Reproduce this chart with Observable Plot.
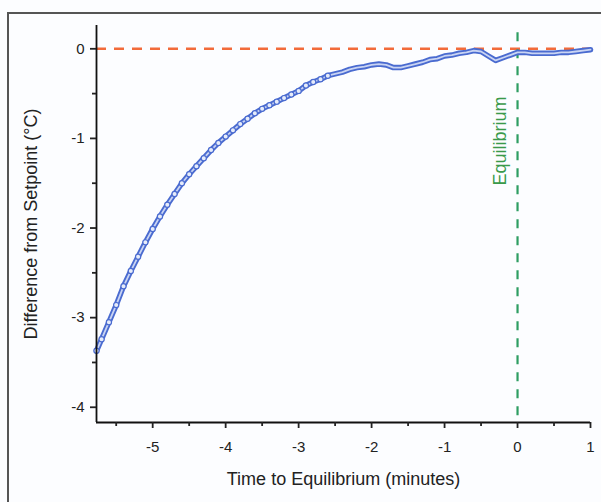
<!DOCTYPE html>
<html><head><meta charset="utf-8">
<script src="https://cdn.jsdelivr.net/npm/d3@7"></script>
<script src="https://cdn.jsdelivr.net/npm/@observablehq/plot@0.6"></script>
<style>
body{margin:0;background:#fff;}
#wrap{position:relative;width:601px;height:502px;overflow:hidden;}
#frame{position:absolute;left:7px;top:12px;width:700px;height:600px;border-left:2px solid #555;border-top:2px solid #555;pointer-events:none;}
svg{font-family:"Liberation Sans",Arial,sans-serif;}
</style></head>
<body><div id="wrap"><div id="frame"></div></div>
<script>
const times = [-5.77,-5.7,-5.6,-5.5,-5.4,-5.3,-5.2,-5.1,-5.0,-4.9,-4.8,-4.7,-4.6,-4.5,-4.4,-4.3,-4.2,-4.1,-4.0,-3.9,-3.8,-3.7,-3.6,-3.5,-3.4,-3.3,-3.2,-3.1,-3.0,-2.9,-2.8,-2.7,-2.6,-2.5,-2.4,-2.3,-2.2,-2.1,-2.0,-1.9,-1.8,-1.7,-1.6,-1.5,-1.4,-1.3,-1.2,-1.1,-1.0,-0.9,-0.8,-0.7,-0.6,-0.5,-0.4,-0.3,-0.2,-0.1,0.0,0.1,0.2,0.3,0.4,0.5,0.6,0.7,0.8,0.9,1.0];
const diffs = [-3.37,-3.24,-3.05,-2.86,-2.65,-2.48,-2.32,-2.16,-2.01,-1.87,-1.74,-1.62,-1.50,-1.40,-1.31,-1.22,-1.13,-1.05,-0.98,-0.91,-0.84,-0.78,-0.72,-0.67,-0.63,-0.59,-0.55,-0.51,-0.47,-0.41,-0.37,-0.34,-0.30,-0.28,-0.26,-0.23,-0.21,-0.20,-0.18,-0.17,-0.18,-0.21,-0.21,-0.19,-0.17,-0.15,-0.12,-0.11,-0.08,-0.07,-0.05,-0.04,-0.02,-0.03,-0.08,-0.13,-0.10,-0.07,-0.04,-0.04,-0.05,-0.05,-0.05,-0.05,-0.04,-0.04,-0.03,-0.02,-0.01];
const xTicks = [-5,-4,-3,-2,-1,0,1];
const xMinor = [-5.5,-4.5,-3.5,-2.5,-1.5,-0.5,0.5];
const yTicks = [0,-1,-2,-3,-4];
const yMinor = [-0.5,-1.5,-2.5,-3.5];
const xDomain = [-5.77, 1];
const yDomain = [-4.17, 0.26];
const setpoint = [0];
const equilibrium = [0];
const eqLabel = ["Equilibrium"];

const data = times.map((t,i)=>({t, d: diffs[i]}));
const blue = "#4a6bd0";
const fmt = d => String(d);

const chart = Plot.plot({
  width: 601, height: 502,
  marginLeft: 96, marginTop: 25, marginRight: 11, marginBottom: 80,
  x: {domain: xDomain},
  y: {domain: yDomain},
  style: {fontFamily: "'Liberation Sans', Arial, sans-serif", background: "#fcfdff", color: "#222"},
  marks: [
    Plot.ruleY(setpoint, {stroke: "#f26b3a", strokeWidth: 2.5, strokeDasharray: "10,8"}),
    Plot.ruleX(equilibrium, {y1: 0.18, y2: yDomain[0], stroke: "#2e9e62", strokeWidth: 2.2, strokeDasharray: "9,8"}),
    Plot.text(eqLabel, {x: 0, y: -1.03, rotate: -90, dx: -17, fill: "#3a9a4a", fontSize: 18}),
    Plot.line(data, {x: "t", y: "d", stroke: blue, strokeWidth: 5.5}),
    Plot.line(data, {x: "t", y: "d", stroke: "#c9d4f3", strokeWidth: 1.8}),
    Plot.dot(data.filter(p => p.t < -2.5), {x: "t", y: "d", r: 2.6, stroke: blue, strokeWidth: 1.2, fill: "#e6ecfa"}),
    Plot.ruleX([xDomain[0]], {stroke: "#111", strokeWidth: 1.8}),
    Plot.ruleY([yDomain[0]], {stroke: "#111", strokeWidth: 1.8}),
    Plot.axisX({ticks: xTicks, tickFormat: fmt, tickSize: 6, tickPadding: 13, strokeWidth: 1.8, fontSize: 15,
      label: "Time to Equilibrium (minutes)", labelAnchor: "center", labelArrow: "none", labelOffset: 62}),
    Plot.axisX({ticks: xMinor, tickFormat: null, text: null, tickSize: 4, strokeWidth: 1.8, label: null}),
    Plot.axisY({ticks: yTicks, tickFormat: fmt, tickSize: 6, tickPadding: 6, strokeWidth: 1.8, fontSize: 15,
      label: "Difference from Setpoint (°C)", labelAnchor: "center", labelArrow: "none", labelOffset: 72}),
    Plot.axisY({ticks: yMinor, tickFormat: null, text: null, tickSize: 4, strokeWidth: 1.8, label: null})
  ]
});
chart.querySelectorAll("g[aria-label]").forEach(g => {
  const a = g.getAttribute("aria-label");
  if (a.includes("axis label")) { g.setAttribute("font-size", "18"); g.querySelectorAll("text").forEach(t => t.style.fontSize = "18px"); }
});
document.getElementById("wrap").prepend(chart);
</script>
</body></html>
